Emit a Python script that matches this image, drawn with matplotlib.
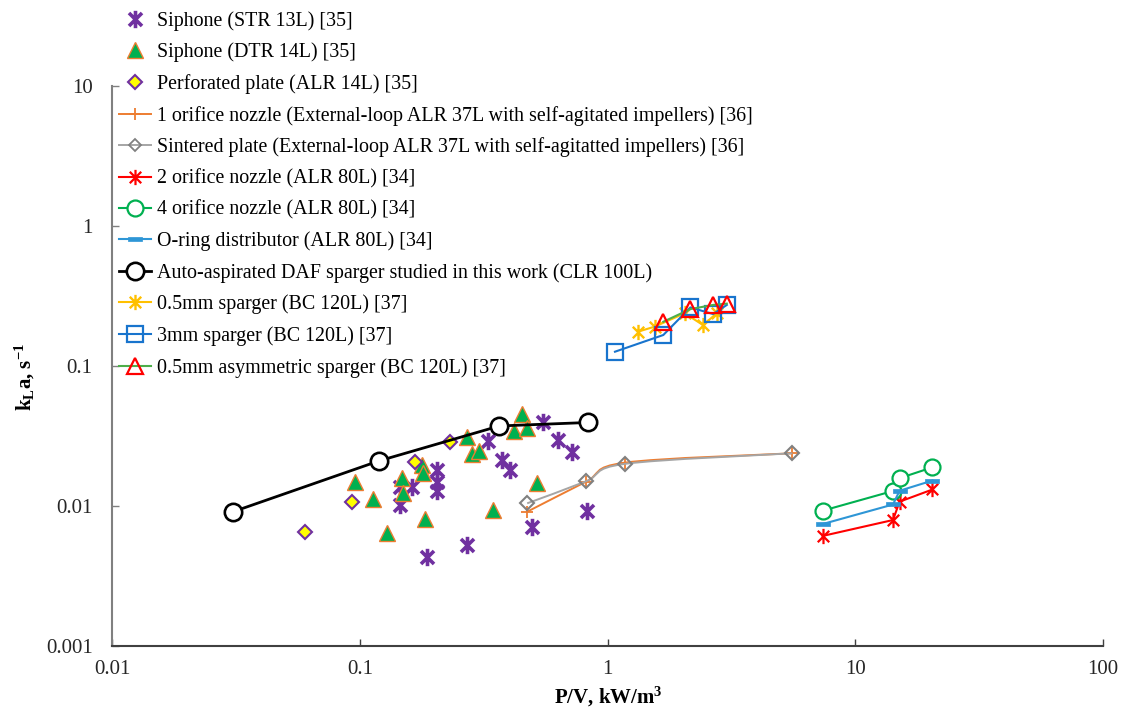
import numpy as np
import matplotlib.pyplot as plt
from matplotlib.path import Path
from matplotlib.patches import PathPatch
from matplotlib.lines import Line2D

plt.rcParams['font.family'] = ['Liberation Serif', 'DejaVu Serif']
plt.rcParams['mathtext.fontset'] = 'custom'
plt.rcParams['mathtext.rm'] = 'Liberation Serif'
plt.rcParams['mathtext.bf'] = 'Liberation Serif:bold'
plt.rcParams['mathtext.it'] = 'Liberation Serif:italic'

# --- data ---
str_x = [0.550, 0.632, 0.716, 0.330, 0.374, 0.404, 0.205, 0.205, 0.205, 0.162,
         0.145, 0.145, 0.828, 0.497, 0.272, 0.186]
str_y = [0.0400, 0.0296, 0.0242, 0.0292, 0.0213, 0.0181, 0.0181, 0.0149, 0.0127, 0.0137,
         0.0137, 0.0102, 0.00925, 0.00712, 0.00527, 0.00434]

dtr_x = [0.0957, 0.1134, 0.129, 0.1476, 0.149, 0.178, 0.1795, 0.1837, 0.270, 0.284,
         0.304, 0.346, 0.420, 0.453, 0.474, 0.518]
dtr_y = [0.0149, 0.0112, 0.00645, 0.0158, 0.0123, 0.0196, 0.0171, 0.00807, 0.0310, 0.0235,
         0.0248, 0.00936, 0.0345, 0.0454, 0.0359, 0.0145]

perf_x = [0.0601, 0.0927, 0.167, 0.232]
perf_y = [0.00655, 0.0106, 0.0207, 0.0286]

noz1_x = [0.474, 0.818, 1.175, 5.58]
noz1_y = [0.0091, 0.0149, 0.0204, 0.0238]

sint_x = [0.474, 0.818, 1.175, 5.58]
sint_y = [0.01045, 0.0150, 0.0200, 0.0238]

noz2_x = [7.38, 14.2, 15.1, 20.5]
noz2_y = [0.00611, 0.00794, 0.01074, 0.01312]

noz4_x = [7.38, 14.2, 15.1, 20.5]
noz4_y = [0.00925, 0.0128, 0.0158, 0.0189]

oring_x = [7.38, 14.2, 15.1, 20.5]
oring_y = [0.00743, 0.01025, 0.01285, 0.0152]

daf_x = [0.0308, 0.1196, 0.366, 0.836]
daf_y = [0.0091, 0.0210, 0.0373, 0.0395]

sp05_x = [1.33, 1.55, 2.05, 2.43, 2.76]
sp05_y = [0.176, 0.191, 0.238, 0.196, 0.238]

sp3_x = [1.072, 1.68, 2.16, 2.67, 3.03]
sp3_y = [0.1265, 0.1665, 0.262, 0.235, 0.273]

asym_x = [1.68, 2.16, 2.67, 3.03]
asym_y = [0.207, 0.255, 0.273, 0.279]

x_ticks = [0.01, 0.1, 1, 10, 100]
x_labels = ['0.01', '0.1', '1', '10', '100']
y_ticks = [0.001, 0.01, 0.1, 1, 10]
y_labels = ['0.001', '0.01', '0.1', '1', '10']

# --- markers ---
star = Path([(0, -1), (0, 1), (-0.75, -0.75), (0.75, 0.75), (-0.75, 0.75), (0.75, -0.75)],
            [1, 2, 1, 2, 1, 2])
dash = Path([(-1, -0.3), (1, -0.3), (1, 0.3), (-1, 0.3), (-1, -0.3)], [1, 2, 2, 2, 79])


def smooth_line(ax, x, y, **kw):
    # Catmull-Rom style smoothing drawn as bezier curves in log space
    p = np.column_stack([np.log10(x), np.log10(y)])
    n = len(p)
    verts = [p[0]]
    codes = [Path.MOVETO]
    for i in range(n - 1):
        p0 = p[max(i - 1, 0)]
        p1 = p[i]
        p2 = p[i + 1]
        p3 = p[min(i + 2, n - 1)]
        verts += [p1 + (p2 - p0) / 6, p2 - (p3 - p1) / 6, p2]
        codes += [Path.CURVE4] * 3
    path = Path(10 ** np.array(verts), codes)
    ax.add_patch(PathPatch(path, fill=False, transform=ax.transData, **kw))


fig = plt.figure(figsize=(11.24, 7.13), dpi=100)
ax = fig.add_axes([112 / 1124, 1 - 646 / 713, (1103 - 112) / 1124, (646 - 86) / 713])
ax.set_xscale('log')
ax.set_yscale('log')

handles = []

h, = ax.plot(str_x, str_y, ls='none', marker=star, ms=12.5, mec='#7030A0', mfc='none',
             mew=2.6, zorder=3, label='Siphone (STR 13L) [35]')
handles.append(h)
h, = ax.plot(dtr_x, dtr_y, ls='none', marker='^', ms=11, mfc='#00B050', mec='#ED7D31',
             mew=1.0, zorder=4, label='Siphone (DTR 14L) [35]')
handles.append(h)
h, = ax.plot(perf_x, perf_y, ls='none', marker='D', ms=7.5, mfc='#FFFF00', mec='#7030A0',
             mew=1.5, zorder=5, label='Perforated plate (ALR 14L) [35]')
handles.append(h)

smooth_line(ax, noz1_x, noz1_y, color='#ED7D31', lw=1.4, zorder=6)
ax.plot(noz1_x, noz1_y, ls='none', marker='+', ms=9, mec='#ED7D31', mew=1.3, zorder=6)
handles.append(Line2D([], [], color='#ED7D31', lw=1.4, marker='+', ms=9, mew=1.3,
                      label='1 orifice nozzle (External-loop ALR 37L with self-agitated impellers) [36]'))

smooth_line(ax, sint_x, sint_y, color='#A5A5A5', lw=1.4, zorder=7)
ax.plot(sint_x, sint_y, ls='none', marker='D', ms=7, mfc='none', mec='#808080', mew=1.5, zorder=7)
handles.append(Line2D([], [], color='#A5A5A5', lw=1.4, marker='D', ms=6, mfc='none',
                      mec='#808080', mew=1.3,
                      label='Sintered plate (External-loop ALR 37L with self-agitatted impellers) [36]'))

h, = ax.plot(noz2_x, noz2_y, color='#FF0000', lw=1.5, marker=star, ms=11, mfc='none',
             mew=1.6, zorder=8, label='2 orifice nozzle (ALR 80L) [34]')
handles.append(h)
h, = ax.plot(noz4_x, noz4_y, color='#00B050', lw=1.5, marker='o', ms=11.5, mfc='white',
             mew=1.6, zorder=9, label='4 orifice nozzle (ALR 80L) [34]')
handles.append(h)
h, = ax.plot(oring_x, oring_y, color='#2E96D6', lw=1.5, marker=dash, ms=10, mfc='#2E96D6',
             mec='#2E96D6', mew=0.5, zorder=10, label='O-ring distributor (ALR 80L) [34]')
handles.append(h)
h, = ax.plot(daf_x, daf_y, color='black', lw=2.0, marker='o', ms=12.5, mfc='white',
             mew=1.9, zorder=11, label='Auto-aspirated DAF sparger studied in this work (CLR 100L)')
handles.append(h)
h, = ax.plot(sp05_x, sp05_y, color='#FFC000', lw=1.5, marker=star, ms=11, mfc='none',
             mew=1.7, zorder=12, label='0.5mm sparger (BC 120L) [37]')
handles.append(h)
h, = ax.plot(sp3_x, sp3_y, color='#1874CD', lw=1.5, marker='s', ms=11, mfc='none',
             mew=1.6, zorder=13, label='3mm sparger (BC 120L) [37]')
handles.append(h)
h, = ax.plot(asym_x, asym_y, color='#4DAF4A', lw=1.5, marker='^', ms=11, mfc='none',
             mec='#FF0000', mew=1.6, zorder=14, label='0.5mm asymmetric sparger (BC 120L) [37]')
handles.append(h)

ax.set_xlim(0.01, 100)
ax.set_ylim(0.001, 10)
ax.xaxis.set_minor_locator(plt.NullLocator())
ax.yaxis.set_minor_locator(plt.NullLocator())
ax.set_xticks(x_ticks)
ax.set_xticklabels(x_labels)
ax.set_yticks(y_ticks)
ax.set_yticklabels(y_labels)
ax.tick_params(axis='both', direction='in', length=5, width=1, labelsize=15, colors='#262626')
ax.tick_params(axis='y', pad=14, color='#808080')
ax.tick_params(axis='x', pad=10, color='#404040')
for s in ['top', 'right']:
    ax.spines[s].set_visible(False)
ax.spines['left'].set_color('#808080')
ax.spines['left'].set_linewidth(1.5)
ax.spines['bottom'].set_color('#404040')
ax.spines['bottom'].set_linewidth(1.5)

fig.text(25 / 1124, 1 - 377 / 713, r'k$_{\mathbf{L}}$a, s$^{\mathbf{-1}}$', rotation=90,
         ha='center', va='center', fontsize=15, fontweight='bold')
fig.text(608 / 1124, 1 - 697 / 713, r'P/V, kW/m$^{\mathbf{3}}$', ha='center', va='center',
         fontsize=15, fontweight='bold')

fig.legend(handles=handles, loc='upper left', bbox_to_anchor=(119 / 1124, 1 - 11 / 713),
           frameon=False, fontsize=14.4, handlelength=1.6, handletextpad=0.3,
           labelspacing=0.59, borderpad=0, borderaxespad=0, numpoints=1)

fig.savefig('out.png', dpi=100)
